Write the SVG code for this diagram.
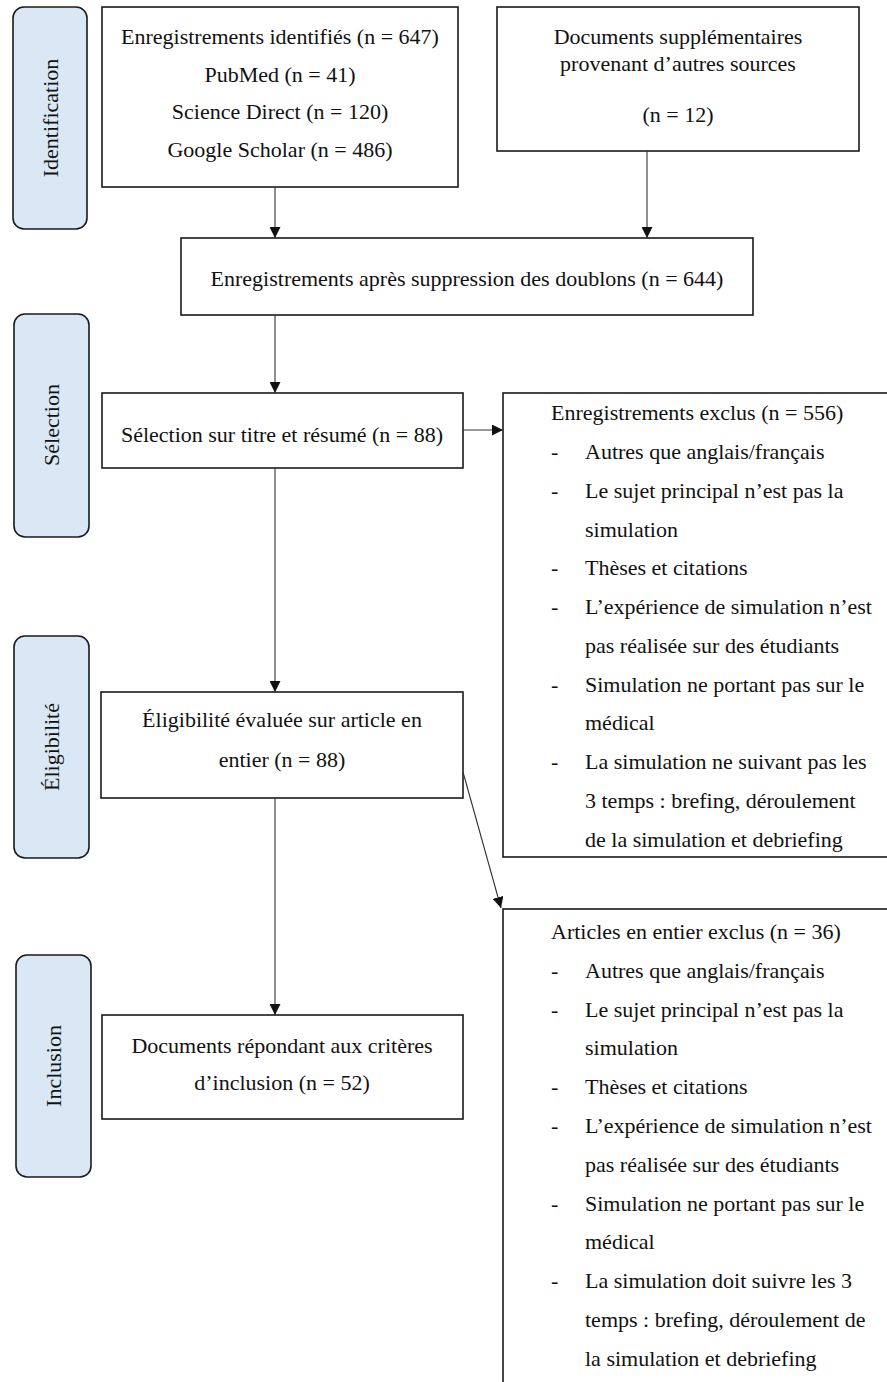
<svg xmlns="http://www.w3.org/2000/svg" width="887" height="1382" viewBox="0 0 887 1382">
<style>
  .bg{fill:#ffffff}
  .box{fill:#ffffff;stroke:#1a1a1a;stroke-width:1.6}
  .lbl{fill:#dae8f5;stroke:#1a1a1a;stroke-width:1.6}
  text{font-family:"Liberation Serif","Times New Roman",serif;font-size:22px;fill:#111}
  .c{text-anchor:middle}
  .conn{stroke:#333;stroke-width:1.1;fill:none;marker-end:url(#ah)}
</style>
<defs>
  <marker id="ah" markerUnits="userSpaceOnUse" markerWidth="11" markerHeight="11" viewBox="0 0 10 10" refX="10" refY="5" orient="auto">
    <path d="M0,0 L10,5 L0,10 z" fill="#111"/>
  </marker>
</defs>
<rect class="bg" x="0" y="0" width="887" height="1382"/>

<g id="stage-identification">
  <rect class="lbl" x="13" y="7" width="74" height="222" rx="11"/>
  <text class="c" transform="translate(50,118) rotate(-90)" dominant-baseline="central">Identification</text>
</g>
<g id="stage-selection">
  <rect class="lbl" x="14" y="314" width="75" height="223" rx="11"/>
  <text class="c" transform="translate(51,425) rotate(-90)" dominant-baseline="central">Sélection</text>
</g>
<g id="stage-eligibilite">
  <rect class="lbl" x="14" y="636" width="75" height="222" rx="11"/>
  <text class="c" transform="translate(51,747) rotate(-90)" dominant-baseline="central">Éligibilité</text>
</g>
<g id="stage-inclusion">
  <rect class="lbl" x="16" y="955" width="75" height="222" rx="11"/>
  <text class="c" transform="translate(53,1066) rotate(-90)" dominant-baseline="central">Inclusion</text>
</g>

<g id="identified">
  <rect class="box" x="102" y="7" width="356" height="180"/>
  <text class="c" x="280" y="44">Enregistrements identifiés (n = 647)</text>
  <text class="c" x="280" y="82">PubMed (n = 41)</text>
  <text class="c" x="280" y="119">Science Direct (n = 120)</text>
  <text class="c" x="280" y="157">Google Scholar (n = 486)</text>
</g>
<g id="other-sources">
  <rect class="box" x="497" y="7" width="362" height="144"/>
  <text class="c" x="678" y="44">Documents supplémentaires</text>
  <text class="c" x="678" y="71">provenant d’autres sources</text>
  <text class="c" x="678" y="122">(n = 12)</text>
</g>
<g id="dedup">
  <rect class="box" x="181" y="238" width="572" height="77"/>
  <text class="c" x="467" y="286">Enregistrements après suppression des doublons (n = 644)</text>
</g>
<g id="screening">
  <rect class="box" x="102" y="393" width="361" height="75"/>
  <text class="c" x="282" y="442">Sélection sur titre et résumé (n = 88)</text>
</g>
<g id="excluded-records">
  <rect class="box" x="503" y="393" width="400" height="464"/>
  <text x="551" y="420">Enregistrements exclus (n = 556)</text>
  <text x="551" y="459">-</text><text x="585" y="459">Autres que anglais/français</text>
  <text x="551" y="498">-</text><text x="585" y="498">Le sujet principal n’est pas la</text>
  <text x="585" y="537">simulation</text>
  <text x="551" y="575">-</text><text x="585" y="575">Thèses et citations</text>
  <text x="551" y="614">-</text><text x="585" y="614">L’expérience de simulation n’est</text>
  <text x="585" y="653">pas réalisée sur des étudiants</text>
  <text x="551" y="692">-</text><text x="585" y="692">Simulation ne portant pas sur le</text>
  <text x="585" y="730">médical</text>
  <text x="551" y="769">-</text><text x="585" y="769">La simulation ne suivant pas les</text>
  <text x="585" y="808">3 temps : brefing, déroulement</text>
  <text x="585" y="847">de la simulation et debriefing</text>
</g>
<g id="eligibility">
  <rect class="box" x="101" y="692" width="362" height="106"/>
  <text class="c" x="282" y="727">Éligibilité évaluée sur article en</text>
  <text class="c" x="282" y="767">entier (n = 88)</text>
</g>
<g id="excluded-articles">
  <rect class="box" x="503" y="909" width="400" height="500"/>
  <text x="551" y="939">Articles en entier exclus (n = 36)</text>
  <text x="551" y="978">-</text><text x="585" y="978">Autres que anglais/français</text>
  <text x="551" y="1017">-</text><text x="585" y="1017">Le sujet principal n’est pas la</text>
  <text x="585" y="1055">simulation</text>
  <text x="551" y="1094">-</text><text x="585" y="1094">Thèses et citations</text>
  <text x="551" y="1133">-</text><text x="585" y="1133">L’expérience de simulation n’est</text>
  <text x="585" y="1172">pas réalisée sur des étudiants</text>
  <text x="551" y="1211">-</text><text x="585" y="1211">Simulation ne portant pas sur le</text>
  <text x="585" y="1249">médical</text>
  <text x="551" y="1288">-</text><text x="585" y="1288">La simulation doit suivre les 3</text>
  <text x="585" y="1327">temps : brefing, déroulement de</text>
  <text x="585" y="1366">la simulation et debriefing</text>
</g>
<g id="included">
  <rect class="box" x="102" y="1015" width="361" height="104"/>
  <text class="c" x="282" y="1053">Documents répondant aux critères</text>
  <text class="c" x="282" y="1090">d’inclusion (n = 52)</text>
</g>

<g id="connectors">
  <line class="conn" x1="275" y1="187" x2="275" y2="238"/>
  <line class="conn" x1="647" y1="151" x2="647" y2="238"/>
  <line class="conn" x1="275" y1="315" x2="275" y2="393"/>
  <line class="conn" x1="463" y1="430" x2="503" y2="430"/>
  <line class="conn" x1="275" y1="468" x2="275" y2="692"/>
  <line class="conn" x1="463" y1="772" x2="501" y2="908"/>
  <line class="conn" x1="275" y1="798" x2="275" y2="1015"/>
</g>
</svg>
